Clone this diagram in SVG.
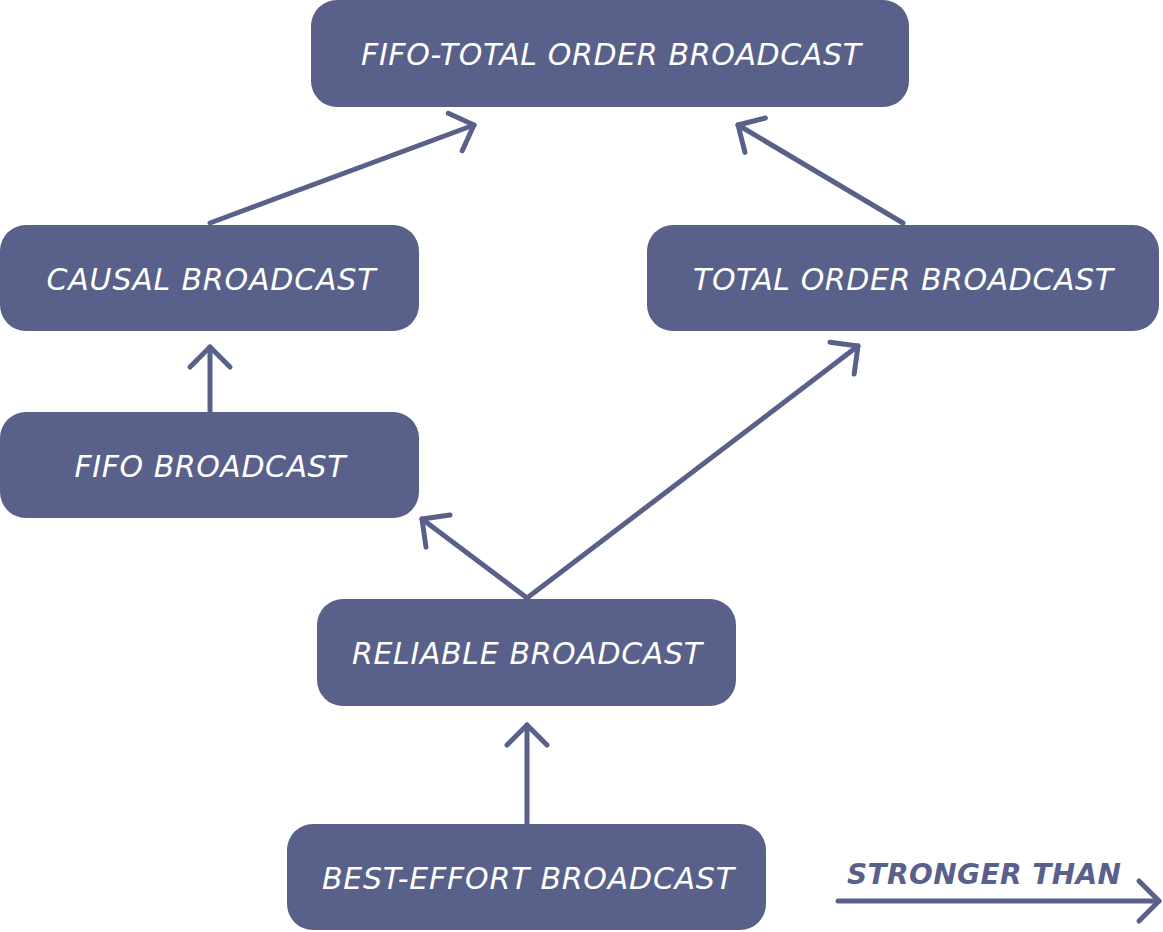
<svg xmlns="http://www.w3.org/2000/svg" width="1163" height="932" viewBox="0 0 1163 932">
<style>
.node rect{fill:#596089;}
.node text{fill:#ffffff;font-family:"DejaVu Sans","Open Sans",sans-serif;font-style:italic;font-weight:normal;font-size:30px;text-anchor:middle;}
.conn line{stroke:#596089;stroke-width:5;stroke-linecap:round;fill:none;}
.legend{fill:#596089;font-family:"DejaVu Sans","Open Sans",sans-serif;font-style:italic;font-weight:bold;font-size:28px;}
</style>
<defs>
<marker id="chev" markerUnits="userSpaceOnUse" viewBox="-30 -30 40 60" refX="0" refY="0" markerWidth="40" markerHeight="60" orient="auto" overflow="visible">
<path d="M-20,-20 L0,0 L-20,20" fill="none" stroke="#596089" stroke-width="5" stroke-linecap="round" stroke-linejoin="round"/>
</marker>
</defs>
<g id="connectors" class="conn">
<line x1="210" y1="223" x2="474" y2="125" marker-end="url(#chev)"/>
<line x1="903" y1="223" x2="738" y2="125" marker-end="url(#chev)"/>
<line x1="210" y1="411" x2="210" y2="347" marker-end="url(#chev)"/>
<line x1="527" y1="598" x2="422" y2="519" marker-end="url(#chev)"/>
<line x1="527" y1="598" x2="858" y2="346" marker-end="url(#chev)"/>
<line x1="527" y1="823" x2="527" y2="725" marker-end="url(#chev)"/>
<line x1="838" y1="901" x2="1159" y2="901" marker-end="url(#chev)"/>
</g>
<g id="node-fifo-total" class="node">
<rect x="311" y="0" width="598" height="107" rx="26"/>
<text x="611" y="65" textLength="500">FIFO-TOTAL ORDER BROADCAST</text>
</g>
<g id="node-causal" class="node">
<rect x="0" y="225" width="419" height="106" rx="26"/>
<text x="211" y="290" textLength="329">CAUSAL BROADCAST</text>
</g>
<g id="node-total" class="node">
<rect x="647" y="225" width="512" height="106" rx="26"/>
<text x="903" y="290" textLength="420">TOTAL ORDER BROADCAST</text>
</g>
<g id="node-fifo" class="node">
<rect x="0" y="412" width="419" height="106" rx="26"/>
<text x="210" y="477" textLength="271">FIFO BROADCAST</text>
</g>
<g id="node-reliable" class="node">
<rect x="317" y="599" width="419" height="107" rx="26"/>
<text x="527" y="664" textLength="350">RELIABLE BROADCAST</text>
</g>
<g id="node-best" class="node">
<rect x="287" y="824" width="479" height="106" rx="26"/>
<text x="528" y="889" textLength="412">BEST-EFFORT BROADCAST</text>
</g>
<g id="legend">
<text class="legend" x="847" y="884" textLength="274">STRONGER THAN</text>
</g>
</svg>
